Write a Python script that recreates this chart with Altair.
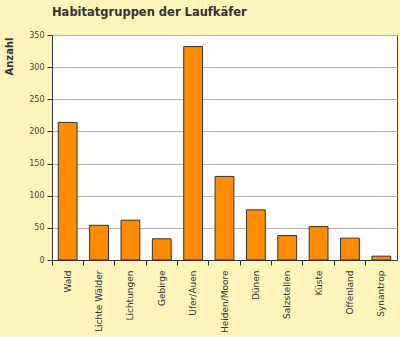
import altair as alt
import pandas as pd

categories = ["Wald", "Lichte Wälder", "Lichtungen", "Gebirge", "Ufer/Auen",
              "Heiden/Moore", "Dünen", "Salzstellen", "Küste", "Offenland", "Synantrop"]
values = [214, 54, 62, 33, 332, 130, 78, 38, 52, 34, 6]
y_ticks = [0, 50, 100, 150, 200, 250, 300, 350]

df = pd.DataFrame({"Habitat": categories, "Anzahl": values})

font = "DejaVu Sans"

chart = alt.Chart(df).mark_bar(
    color="#FF8C00", stroke="#333333", strokeWidth=1,
    width=alt.RelativeBandSize(0.6)
).encode(
    x=alt.X("Habitat:N", sort=categories, title=None,
            scale=alt.Scale(paddingInner=0, paddingOuter=0),
            axis=alt.Axis(labelAngle=-90, labelFont=font, labelFontSize=9,
                          labelColor="#333333", tickColor="#333333", tickSize=5,
                          domainColor="#333333", labelPadding=5, grid=False,
                          bandPosition=0)),
    y=alt.Y("Anzahl:Q", title="Anzahl",
            scale=alt.Scale(domain=[0, 350], nice=False),
            axis=alt.Axis(values=y_ticks, labelFont=font, labelFontSize=8,
                          labelColor="#444444", tickColor="#333333", tickSize=5,
                          domainColor="#333333", labelPadding=3,
                          gridColor="#AFAFAF", gridWidth=1,
                          titleFont=font, titleFontSize=10, titleFontWeight="bold",
                          titleColor="#333333", titleAngle=270, titleAlign="right",
                          titleBaseline="alphabetic", titleX=-40, titleY=2))
).properties(
    width=345, height=225,
    title=alt.TitleParams("Habitatgruppen der Laufkäfer", anchor="start",
                          frame="group",
                          font=font, fontSize=11.5, fontWeight="bold",
                          color="#333333", offset=13),
    background="#FFF4BC",
    padding={"left": 52, "top": 35, "right": 3, "bottom": 77},
    autosize=alt.AutoSizeParams(type="none"),
).configure_view(
    fill="white", stroke="#444444", strokeWidth=1
)

chart.save("out.html", embed_options={"renderer": "svg", "actions": False})
